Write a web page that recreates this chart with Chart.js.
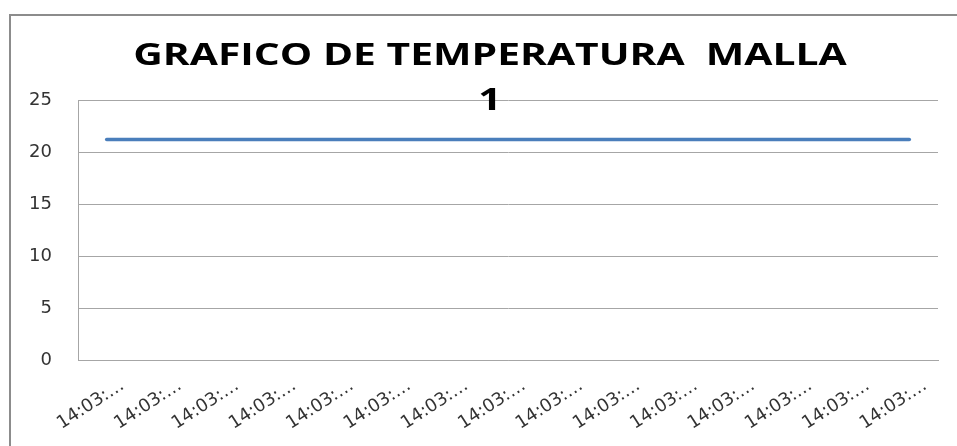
<!DOCTYPE html>
<html lang="es">
<head>
<meta charset="UTF-8">
<title>Grafico de temperatura malla 1</title>
<script src="https://cdn.jsdelivr.net/npm/chart.js@4"></script>
<style>
  html, body { margin: 0; padding: 0; background: #fff; }
  #wrap { position: relative; width: 957px; height: 446px; }
</style>
</head>
<body>
<div id="wrap"><canvas id="chart" width="957" height="446"></canvas></div>
<script>
  // data
  const timeLabels = [
    "14:03:…", "14:03:…", "14:03:…", "14:03:…", "14:03:…",
    "14:03:…", "14:03:…", "14:03:…", "14:03:…", "14:03:…",
    "14:03:…", "14:03:…", "14:03:…", "14:03:…", "14:03:…"
  ];
  const temperature = [21.2, 21.2, 21.2, 21.2, 21.2, 21.2, 21.2, 21.2, 21.2, 21.2, 21.2, 21.2, 21.2, 21.2, 21.2];
  const yMin = 0;
  const yMax = 25;
  const yStep = 5;
  const titleLines = ["GRAFICO DE TEMPERATURA  MALLA", "1"];

  const gridGray = '#a6a6a6';
  const tickFont = { family: '"DejaVu Sans", Verdana, sans-serif', size: 18 };

  // outer chart frame (only left and top edges are visible in the crop)
  const frame = {
    id: 'frame',
    beforeDraw(chart) {
      const ctx = chart.ctx;
      ctx.save();
      ctx.fillStyle = '#fff';
      ctx.fillRect(0, 0, chart.width, chart.height);
      ctx.strokeStyle = '#8c8c8c';
      ctx.lineWidth = 2;
      ctx.beginPath();
      ctx.moveTo(10, chart.height);
      ctx.lineTo(10, 15);
      ctx.lineTo(chart.width, 15);
      ctx.stroke();
      ctx.restore();
    }
  };

  // Excel-style wide title that overlaps the plot area
  const wideTitle = {
    id: 'wideTitle',
    afterDraw(chart) {
      const ctx = chart.ctx;
      const baselines = [65, 110];
      ctx.save();
      ctx.fillStyle = '#000';
      ctx.font = 'bold 30px "Open Sans", sans-serif';
      ctx.textAlign = 'center';
      ctx.textBaseline = 'alphabetic';
      titleLines.forEach((line, i) => {
        ctx.save();
        ctx.translate(490, baselines[i]);
        ctx.scale(1.36, 1);
        ctx.fillText(line, 0, 0);
        ctx.restore();
      });
      ctx.restore();
    }
  };

  const ctx = document.getElementById('chart').getContext('2d');
  new Chart(ctx, {
    type: 'line',
    data: {
      labels: timeLabels,
      datasets: [{
        label: 'Temperatura',
        data: temperature,
        borderColor: '#4a7ebb',
        borderWidth: 3.5,
        borderCapStyle: 'round',
        pointRadius: 0,
        fill: false,
        tension: 0
      }]
    },
    options: {
      responsive: false,
      animation: false,
      layout: { padding: { left: 0, right: 19, top: 100, bottom: 0 } },
      plugins: {
        legend: { display: false },
        tooltip: { enabled: false },
        title: { display: false }
      },
      scales: {
        x: {
          offset: true,
          grid: { display: false, drawTicks: false },
          border: { color: gridGray, width: 1 },
          ticks: {
            autoSkip: false,
            minRotation: 33,
            maxRotation: 33,
            labelOffset: 16,
            padding: 15,
            color: '#333',
            font: tickFont
          },
          afterFit: (s) => { s.height = 86; }
        },
        y: {
          min: yMin,
          max: yMax,
          grid: { color: gridGray, drawTicks: false },
          border: { color: gridGray, width: 1 },
          ticks: { stepSize: yStep, padding: 26, color: '#333', font: tickFont },
          afterFit: (s) => { s.width = 78; }
        }
      }
    },
    plugins: [frame, wideTitle]
  });
</script>
</body>
</html>
